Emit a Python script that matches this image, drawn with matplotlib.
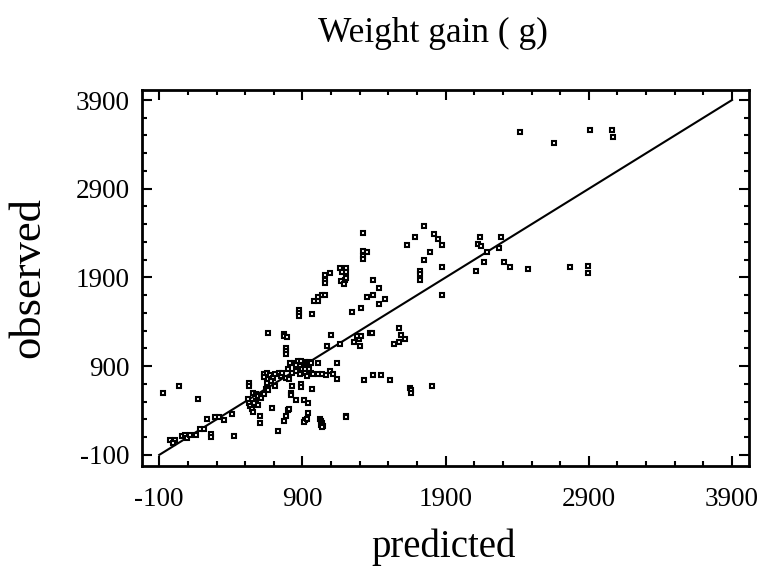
import numpy as np
import matplotlib
matplotlib.use('Agg')
import matplotlib.pyplot as plt
from matplotlib.ticker import MultipleLocator, FixedLocator

plt.rcParams['font.family'] = ['Liberation Serif', 'DejaVu Serif']
plt.rcParams['axes.unicode_minus'] = False

# predicted vs observed weight gain (g)
predicted = [
    # lower left
    -76, 35, 169, -22, 8, -4, 59, 80, 94, 112, 154, 184, 214, 259, 262, 235,
    289, 319, 355, 406, 421,
    # dense core
    633, 650, 633, 672, 693, 708, 738, 753, 759, 783, 807, 798, 813, 843, 857,
    872, 893, 917, 932, 947, 962, 881, 899, 917, 947, 959, 917, 935, 977, 1007,
    1007, 1037, 1067, 1091, 1112, 1139, 881, 857, 827, 678, 708, 654, 558, 573,
    588, 612, 633, 648, 663, 573, 564, 588,
    522, 528, 537, 546, 552, 528, 528, 606, 603, 687, 726, 768, 783, 798, 807,
    827, 821, 821, 857, 887, 887, 911, 938, 917, 908, 932, 938, 965,
    1025, 1033, 1040, 1031, 1043, 1037, 1201, 1204,
    # middle
    657, 768, 768, 792, 783, 783, 783, 875, 875, 875, 965, 980, 1007, 1010,
    1037, 1058, 1058, 1058, 1058, 1094, 1163, 1187, 1201, 1207, 1177, 1195,
    1169, 1193, 1207, 1097, 1073, 1163, 1139, 1261, 1300, 1297, 1282, 1306,
    1372, 1387, 1246, 1312, 1324, 1324, 1351, 1324, 1324, 1390, 1432, 1390,
    1351, 1474, 1432, 1327, 1390, 1447, 1510, 1575, 1590, 1617, 1575, 1537,
    1650, 1656, 1656, 1806,
    1749, 1683, 1629, 1818, 1845, 1872, 1791, 1749, 1719, 1719, 1719, 1872,
    1872,
    # right
    2111, 2123, 2138, 2150, 2168, 2192, 2272, 2287, 2311, 2350, 2473, 2766,
    2895, 2895,
    # top
    2419, 2658, 2910, 3059, 3071,
]
observed = [
    597, 672, 526, 65, 65, 39, 114, 121, 87, 121, 121, 196, 196, 140, 106, 309,
    331, 331, 290, 357, 117,
    807, 826, 777, 796, 770, 807, 826, 788, 818, 762, 751, 863, 938, 938, 916,
    957, 957, 946, 920, 946, 931, 901, 863, 863, 871, 826, 826, 788, 807, 938,
    807, 807, 796, 845, 815, 751, 807, 845, 826, 732, 676, 706, 601, 582,
    564, 545, 582, 638, 631, 507, 489, 459,
    526, 489, 451, 414, 384, 713, 676, 264, 339, 432, 166, 282, 339, 402, 414,
    680, 601, 571, 518, 695, 669, 518, 481, 293, 274, 309, 368, 646,
    300, 280, 260, 240, 225, 210, 339, 327,
    1276, 1268, 1238, 1227, 1107, 1070, 1032, 1538, 1501, 1463, 1486, 1632,
    1632, 1677, 1707, 1707, 1932, 1876, 1838, 1951, 2007, 1981, 2007, 1958,
    1958, 1876, 1861, 1831, 1894, 1246, 1126, 1145, 931, 1175, 1126, 1201,
    1238, 1238, 1276, 1276, 1512, 1557, 2404, 2194, 2187, 2138, 2108, 1876,
    1782, 1707, 1681, 1658, 1606, 740, 796, 796, 740, 1332, 1246, 1201, 1171,
    1152, 657, 631, 601, 672,
    2475, 2359, 2262, 2385, 2329, 2262, 2187, 2093, 1977, 1939, 1876, 2018,
    1707,
    1969, 2280, 2355, 2258, 2071, 2183, 2232, 2355, 2071, 2018, 1996, 2018,
    2026, 1951,
    3536, 3416, 3559, 3563, 3488,
]

tick_values = [-100, 900, 1900, 2900, 3900]
fit_line = [-100, 3900]

fig = plt.figure(figsize=(7.62, 5.72), dpi=100)
ax = fig.add_axes([0.1864, 0.1853, 0.7959, 0.6574])

ax.plot(fit_line, fit_line, color='black', lw=1.5, zorder=2)
ax.plot(predicted, observed, 's', ms=3.2, mfc='white', mec='black', mew=1.5,
        ls='none', zorder=3)

ax.set_xlim(-220, 4015)
ax.set_ylim(-225, 4013)
for axis in [ax.xaxis, ax.yaxis]:
    axis.set_major_locator(FixedLocator(tick_values))
    axis.set_minor_locator(MultipleLocator(200, offset=100))

ax.tick_params(which='both', direction='in', top=True, right=True, width=1.5,
               labelsize=19.5)
ax.tick_params(which='major', length=7)
ax.tick_params(which='minor', length=3.5)
ax.tick_params(axis='x', pad=15)
ax.tick_params(axis='y', pad=9)
for sp in ax.spines.values():
    sp.set_linewidth(2)

fig.text(433 / 762, 1 - 42 / 572, 'Weight gain ( g)', fontsize=25.5,
         ha='center', va='baseline')
fig.text(444 / 762, 1 - 557 / 572, 'predicted', fontsize=28,
         ha='center', va='baseline')
fig.text(28 / 762, 1 - 277 / 572, 'observed', fontsize=32, rotation=90,
         ha='center', va='center')

fig.savefig('out.png', dpi=100)
